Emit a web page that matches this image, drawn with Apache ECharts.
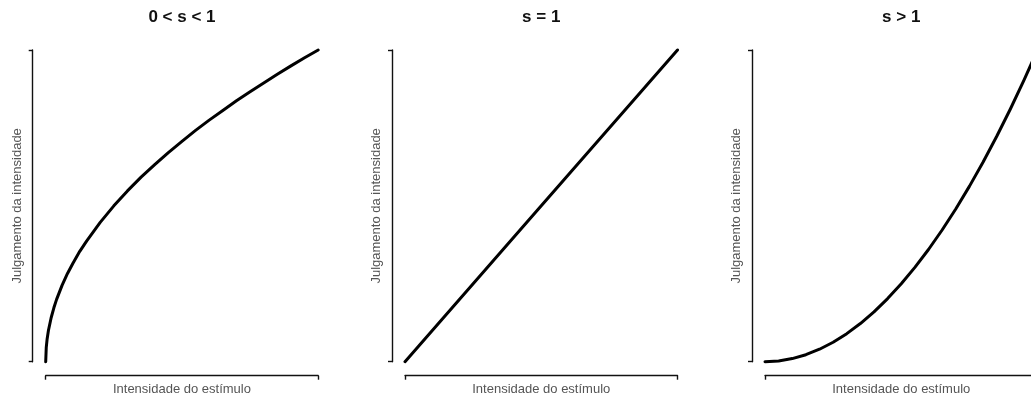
<!DOCTYPE html>
<html>
<head>
<meta charset="utf-8">
<script src="https://cdn.jsdelivr.net/npm/echarts@6/dist/echarts.min.js"></script>
<style>
html,body{margin:0;padding:0;background:#fff;}
#c{width:1031px;height:396px;}
</style>
</head>
<body>
<div id="c"></div>
<script>
// Panel titles and axis names
var titles = ['0 < s < 1', 's = 1', 's > 1'];
var xName = 'Intensidade do estímulo';
var yName = 'Julgamento da intensidade';

// Values (stimulus intensity, 0..1 -> judged intensity, 0..1)
var xSub = [0, 0.002, 0.005, 0.01, 0.02, 0.03, 0.04, 0.06, 0.08, 0.1, 0.125, 0.15, 0.2, 0.25, 0.3, 0.35, 0.4, 0.45, 0.5, 0.55, 0.6, 0.65, 0.7, 0.75, 0.8, 0.85, 0.9, 0.95, 1.0];
var ySub = [0, 0.045, 0.071, 0.10, 0.141, 0.173, 0.20, 0.245, 0.283, 0.316, 0.354, 0.387, 0.447, 0.50, 0.548, 0.592, 0.632, 0.671, 0.707, 0.742, 0.775, 0.806, 0.837, 0.866, 0.894, 0.922, 0.949, 0.975, 1.0];

var xLin = [0, 0.5, 1];
var yLin = [0, 0.5, 1];

var xSup = [0, 0.05, 0.1, 0.15, 0.2, 0.25, 0.3, 0.35, 0.4, 0.45, 0.5, 0.55, 0.6, 0.65, 0.7, 0.75, 0.8, 0.85, 0.9, 0.95, 1.0];
var ySup = [0, 0.0025, 0.01, 0.0225, 0.04, 0.0625, 0.09, 0.1225, 0.16, 0.2025, 0.25, 0.3025, 0.36, 0.4225, 0.49, 0.5625, 0.64, 0.7225, 0.81, 0.9025, 1.0];

var panels = [
  {x: xSub, y: ySub},
  {x: xLin, y: yLin},
  {x: xSup, y: ySup}
];

// layout
var lefts = [45.7, 405, 765];
var plotW = 272.5;
var plotTop = 50;
var plotH = 311.7;

var font = '"Liberation Sans", Arial, Helvetica, sans-serif';

var grids = [], xAxes = [], yAxes = [], series = [], titleArr = [];
panels.forEach(function(p, i) {
  grids.push({left: lefts[i], top: plotTop, width: plotW, height: plotH, containLabel: false, outerBoundsMode: 'none'});
  titleArr.push({
    text: titles[i], left: lefts[i] + plotW / 2, top: 9, textAlign: 'center', padding: 0,
    textStyle: {fontFamily: font, fontSize: 17, fontWeight: 'bold', color: '#111'}
  });
  xAxes.push({
    type: 'value', gridIndex: i, min: 0, max: 1, interval: 1, offset: 14, position: 'bottom',
    name: xName, nameLocation: 'middle', nameGap: 7,
    nameTextStyle: {fontFamily: font, fontSize: 13, color: '#555', verticalAlign: 'top'},
    axisLine: {show: true, onZero: false, lineStyle: {color: '#111', width: 1.4}},
    axisTick: {show: true, length: 4, lineStyle: {color: '#111', width: 1.4}},
    axisLabel: {show: false}, splitLine: {show: false}
  });
  yAxes.push({
    type: 'value', gridIndex: i, min: 0, max: 1, interval: 1, offset: 13, position: 'left',
    name: yName, nameLocation: 'middle', nameGap: 9,
    nameTextStyle: {fontFamily: font, fontSize: 13, color: '#555'},
    axisLine: {show: true, onZero: false, lineStyle: {color: '#111', width: 1.4}},
    axisTick: {show: true, length: 4, lineStyle: {color: '#111', width: 1.4}},
    axisLabel: {show: false}, splitLine: {show: false}
  });
  series.push({
    type: 'line', xAxisIndex: i, yAxisIndex: i,
    data: p.x.map(function(v, k) { return [v, p.y[k]]; }),
    showSymbol: false, smooth: false,
    lineStyle: {color: '#000', width: 3, join: 'round', cap: 'round'},
    clip: false, animation: false
  });
});

var chart = echarts.init(document.getElementById('c'));
chart.setOption({
  animation: false,
  backgroundColor: '#fff',
  title: titleArr,
  grid: grids,
  xAxis: xAxes,
  yAxis: yAxes,
  series: series
});
</script>
</body>
</html>
